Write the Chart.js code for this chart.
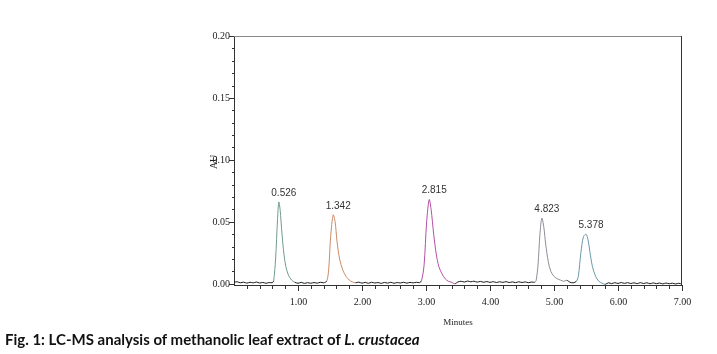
<!DOCTYPE html>
<html>
<head>
<meta charset="utf-8">
<script src="https://cdn.jsdelivr.net/npm/chart.js@4.4.1/dist/chart.umd.min.js"></script>
<style>
  html, body { margin: 0; padding: 0; background: #fff; }
  #wrap { position: relative; width: 717px; height: 354px; }
  #chart { position: absolute; left: 0; top: 0; }
  #caption {
    position: absolute; left: 5px; top: 330px;
    font-family: Lato, "Liberation Sans", sans-serif;
    font-weight: bold; font-size: 15px; color: #111; white-space: nowrap;
  }
</style>
</head>
<body>
<div id="wrap">
  <canvas id="chart" width="717" height="332"></canvas>
  <div id="caption">Fig. 1: LC-MS analysis of methanolic leaf extract of <i>L. crustacea</i></div>
</div>
<script>
// 色谱数据（时间 / 吸光度）
const times = [
  0.00, 0.05, 0.10, 0.15, 0.20, 0.25, 0.30, 0.35, 0.40, 0.45, 0.50, 0.55, 0.60,
  0.62, 0.65, 0.68, 0.70, 0.72, 0.75, 0.78, 0.81, 0.85, 0.90, 0.95,
  1.00, 1.05, 1.10, 1.15, 1.20, 1.25, 1.30, 1.35, 1.40,
  1.45, 1.48, 1.51, 1.55, 1.58, 1.61, 1.65, 1.70, 1.75, 1.80, 1.85,
  1.90, 1.95, 2.00, 2.05, 2.10, 2.15, 2.20, 2.25, 2.30, 2.35, 2.40, 2.45, 2.50,
  2.55, 2.60, 2.65, 2.70, 2.75, 2.80, 2.85, 2.90,
  2.93, 2.97, 3.01, 3.05, 3.08, 3.12, 3.16, 3.20, 3.25, 3.30, 3.35, 3.40, 3.45,
  3.50, 3.55, 3.60, 3.65, 3.70, 3.75, 3.80, 3.85, 3.90, 3.95, 4.00, 4.05, 4.10,
  4.15, 4.20, 4.25, 4.30, 4.35, 4.40, 4.45, 4.50, 4.55, 4.60, 4.65, 4.70,
  4.72, 4.75, 4.78, 4.81, 4.84, 4.87, 4.91, 4.95, 5.00, 5.05, 5.10, 5.15, 5.20,
  5.25, 5.30, 5.35,
  5.38, 5.42, 5.46, 5.50, 5.53, 5.56, 5.60, 5.65, 5.70, 5.75,
  5.80, 5.85, 5.90, 5.95, 6.00, 6.05, 6.10, 6.15, 6.20, 6.25, 6.30, 6.35, 6.40,
  6.45, 6.50, 6.55, 6.60, 6.65, 6.70, 6.75, 6.80, 6.85, 6.90, 6.95, 7.00
];
const absorbance = [
  0.0012, 0.0016, 0.0008, 0.0013, 0.0005, 0.0012, 0.0007, 0.0014, 0.0006, 0.0011, 0.0004, 0.0010, 0.0008,
  0.0025, 0.0200, 0.0520, 0.0660, 0.0600, 0.0400, 0.0240, 0.0140, 0.0070, 0.0030, 0.0012,
  0.0004, 0.0011, 0.0003, 0.0009, 0.0004, 0.0010, 0.0005, 0.0012, 0.0008,
  0.0022, 0.0120, 0.0380, 0.0556, 0.0500, 0.0340, 0.0200, 0.0110, 0.0060, 0.0030, 0.0015,
  0.0008, 0.0013, 0.0005, 0.0011, 0.0004, 0.0012, 0.0006, 0.0010, 0.0003, 0.0011, 0.0005, 0.0012, 0.0004,
  0.0010, 0.0006, 0.0012, 0.0005, 0.0011, 0.0007, 0.0012, 0.0009,
  0.0025, 0.0150, 0.0500, 0.0680, 0.0600, 0.0400, 0.0240, 0.0140, 0.0080, 0.0040, 0.0020, 0.0012, 0.0000,
  0.0015, 0.0020, 0.0014, 0.0022, 0.0016, 0.0021, 0.0013, 0.0019, 0.0012, 0.0018, 0.0011, 0.0017, 0.0010,
  0.0016, 0.0011, 0.0017, 0.0010, 0.0015, 0.0009, 0.0016, 0.0010, 0.0015, 0.0009, 0.0014, 0.0012,
  0.0025, 0.0150, 0.0400, 0.0530, 0.0460, 0.0320, 0.0180, 0.0100, 0.0060, 0.0040, 0.0030, 0.0020, 0.0028,
  0.0012, 0.0008, 0.0020,
  0.0060, 0.0250, 0.0380, 0.0400, 0.0360, 0.0260, 0.0140, 0.0060, 0.0020, 0.0005,
  -0.0005, 0.0008, 0.0001, 0.0009, 0.0002, 0.0010, 0.0003, 0.0009, 0.0002, 0.0008, 0.0001, 0.0009, 0.0002,
  0.0008, 0.0000, 0.0007, 0.0001, 0.0006, -0.0001, 0.0006, 0.0000, 0.0005, -0.0002, 0.0004, -0.0004
];

// 峰标签与颜色区间
const peakLabels = ['0.526', '1.342', '2.815', '4.823', '5.378'];
const peakApexTimes = [0.70, 1.55, 3.05, 4.81, 5.50];
const peakApexValues = [0.066, 0.0556, 0.068, 0.053, 0.040];
const peakStart = [0.61, 1.44, 2.92, 4.70, 5.36];
const peakEnd = [0.96, 1.88, 3.46, 5.21, 5.78];
const peakColors = ['#6f9c8c', '#c98a68', '#b44fa6', '#8a8e96', '#6b97a8'];

// 刻度
const yMajorTicks = [0, 0.05, 0.10, 0.15, 0.20];
const yMinorTicks = [0.01, 0.02, 0.03, 0.04, 0.06, 0.07, 0.08, 0.09, 0.11, 0.12, 0.13, 0.14, 0.16, 0.17, 0.18, 0.19];
const xMajorTicks = [1, 2, 3, 4, 5, 6, 7];
const xMinorTicks = [0.2, 0.4, 0.6, 0.8, 1.2, 1.4, 1.6, 1.8, 2.2, 2.4, 2.6, 2.8, 3.2, 3.4, 3.6, 3.8,
  4.2, 4.4, 4.6, 4.8, 5.2, 5.4, 5.6, 5.8, 6.2, 6.4, 6.6, 6.8];

const points = times.map((t, i) => ({ x: t, y: absorbance[i] }));

function segColor(ctx) {
  const mid = (ctx.p0.parsed.x + ctx.p1.parsed.x) / 2;
  for (let i = 0; i < peakStart.length; i++) {
    if (mid > peakStart[i] && mid < peakEnd[i]) return peakColors[i];
  }
  return '#1a1a1a';
}

const tickFont = '10px "Liberation Serif", serif';

// 自定义坐标刻度、峰标签和轴标题
const decorPlugin = {
  id: 'decor',
  afterDraw(chart) {
    const c = chart.ctx;
    const xs = chart.scales.x, ys = chart.scales.y;
    const area = chart.chartArea;
    c.save();
    // 上边框与右边框
    c.strokeStyle = '#888';
    c.lineWidth = 1;
    c.beginPath();
    c.moveTo(area.left, area.top + 0.5);
    c.lineTo(area.right, area.top + 0.5);
    c.stroke();
    c.strokeStyle = '#333';
    c.beginPath();
    c.moveTo(area.right - 0.5, area.top);
    c.lineTo(area.right - 0.5, area.bottom);
    c.stroke();

    // y 刻度
    c.strokeStyle = '#333';
    c.fillStyle = '#222';
    c.font = tickFont;
    c.textAlign = 'right';
    c.textBaseline = 'middle';
    yMajorTicks.forEach(v => {
      const y = Math.round(ys.getPixelForValue(v)) + 0.5;
      c.beginPath();
      c.moveTo(area.left - 5, y);
      c.lineTo(area.left, y);
      c.stroke();
      c.fillText(v.toFixed(2), area.left - 4, y);
    });
    yMinorTicks.forEach(v => {
      const y = Math.round(ys.getPixelForValue(v)) + 0.5;
      c.beginPath();
      c.moveTo(area.left - 2, y);
      c.lineTo(area.left, y);
      c.stroke();
    });

    // x 刻度
    c.textAlign = 'center';
    c.textBaseline = 'top';
    xMajorTicks.forEach(v => {
      const x = Math.round(xs.getPixelForValue(v)) + 0.5;
      c.beginPath();
      c.moveTo(x, area.bottom);
      c.lineTo(x, area.bottom + 6);
      c.stroke();
      c.fillText(v.toFixed(2), x, area.bottom + 12);
    });
    xMinorTicks.forEach(v => {
      const x = Math.round(xs.getPixelForValue(v)) + 0.5;
      c.beginPath();
      c.moveTo(x, area.bottom);
      c.lineTo(x, area.bottom + 4);
      c.stroke();
    });

    // 轴标题
    c.font = '9px "Liberation Serif", serif';
    c.fillText('Minutes', xs.getPixelForValue(3.5), area.bottom + 33);
    c.save();
    c.translate(area.left - 20, ys.getPixelForValue(0.10) + 2);
    c.rotate(-Math.PI / 2);
    c.textAlign = 'center';
    c.textBaseline = 'middle';
    c.font = '10px "Liberation Serif", serif';
    c.fillText('AU', 0, 0);
    c.restore();

    // 峰标签
    c.font = '10px "Liberation Sans", sans-serif';
    c.fillStyle = '#333';
    c.textAlign = 'center';
    c.textBaseline = 'bottom';
    peakLabels.forEach((lab, i) => {
      const x = xs.getPixelForValue(peakApexTimes[i]) + 5;
      const y = ys.getPixelForValue(peakApexValues[i]) - 4;
      c.fillText(lab, x, y);
    });
    c.restore();
  }
};

new Chart(document.getElementById('chart'), {
  type: 'line',
  data: {
    datasets: [{
      data: points,
      borderColor: '#1a1a1a',
      borderWidth: 1,
      pointRadius: 0,
      tension: 0.3,
      segment: { borderColor: segColor }
    }]
  },
  options: {
    responsive: false,
    animation: false,
    events: [],
    layout: { padding: { left: 0, top: 36, right: 35, bottom: 0 } },
    plugins: { legend: { display: false }, tooltip: { enabled: false } },
    scales: {
      x: {
        type: 'linear', min: 0, max: 7,
        grid: { display: false },
        border: { display: true, color: '#333', width: 1 },
        ticks: { display: false },
        afterFit: s => { s.height = 332 - 36 - 249; }
      },
      y: {
        min: -0.001, max: 0.20,
        grid: { display: false },
        border: { display: true, color: '#333', width: 1 },
        ticks: { display: false },
        afterFit: s => { s.width = 234; }
      }
    }
  },
  plugins: [decorPlugin]
});
</script>
</body>
</html>
